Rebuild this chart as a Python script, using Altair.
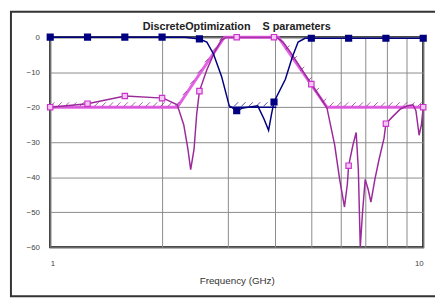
import numpy as np
import pandas as pd
import altair as alt

# S21 measured/optimized response (magenta)
freq_s21 = [1.0, 1.259, 1.587, 2.01, 2.19, 2.28, 2.34, 2.38, 2.43, 2.47, 2.512, 2.63, 2.76, 2.88, 2.97,
            3.162, 3.981, 4.04, 4.21, 4.40, 4.67, 5.012, 5.28, 5.52, 5.79, 5.97, 6.15, 6.26, 6.31,
            6.48, 6.61, 6.70, 6.78, 6.87, 6.99, 7.12, 7.24, 7.42, 7.61, 7.85, 7.943, 8.33, 8.69,
            9.07, 9.39, 9.56, 9.75, 9.89, 10.0]
db_s21 = [-20, -19, -16.8, -17.4, -19.3, -25, -32, -37.8, -32, -22, -15.4, -9.3, -4.2, -0.8, 0,
          0, 0, 0, -1.4, -4.2, -8.4, -13.4, -17, -20.2, -30.8, -40.6, -48.5, -42, -36.7,
          -30.8, -27.2, -37.8, -60, -50.5, -40.6, -43.5, -47.1, -40.6, -35, -28.9, -24.7, -22.4, -20.5,
          -19.6, -19.3, -21, -28, -25, -20]

# S11 response (dark blue)
freq_s11 = [1.0, 2.3, 2.512, 2.63, 2.74, 2.88, 3.02, 3.162, 3.29, 3.6, 3.74, 3.85, 3.92, 3.981,
            4.27, 4.46, 4.62, 4.82, 5.012, 10.0]
db_s11 = [0, 0, -0.5, -1.4, -4.8, -11.2, -19.6, -21, -20.2, -19.6, -23.3, -26.6, -22, -18.5,
          -12, -5.6, -1.4, -0.3, -0.3, -0.3]

# Specification masks
mask_freq = [1.0, 2.19, 2.93, 4.09, 5.52, 10.0]
mask_db = [-20, -20, 0, 0, -20, -20]
s11_spec_freq = [3.02, 4.04]
s11_spec_db = [-20, -20]

# Marker positions
marker_freq = [1.0, 1.259, 1.585, 1.995, 2.512, 3.162, 3.981, 5.012, 6.31, 7.943, 10.0]
marker_s21 = [-20, -19, -16.8, -17.4, -15.4, 0, 0, -13.4, -36.7, -24.7, -20]
marker_s11 = [0, 0, 0, 0, -0.5, -21, -18.5, -0.3, -0.3, -0.3, -0.3]

x_ticks = [1, 2, 3, 4, 5, 6, 7, 8, 9, 10]
y_ticks = [0, -10, -20, -30, -40, -50, -60]
title_text = "DiscreteOptimization\u00a0\u00a0\u00a0\u00a0S parameters"

df_s21 = pd.DataFrame({"f": freq_s21, "db": db_s21})
df_s11 = pd.DataFrame({"f": freq_s11, "db": db_s11})
df_mask = pd.DataFrame({"f": mask_freq, "db": mask_db})
df_spec = pd.DataFrame({"f": s11_spec_freq, "db": s11_spec_db})
df_m21 = pd.DataFrame({"f": marker_freq, "db": marker_s21})
df_m11 = pd.DataFrame({"f": marker_freq, "db": marker_s11})

# hatch decorations along the masks
hl = np.arange(0.006, 1.0, 0.0197)
hy = np.interp(hl, np.log10(mask_freq), mask_db)
keep = hy < -0.8
df_hatch = pd.DataFrame({"f": 10 ** hl[keep], "db": hy[keep]})
hl2 = hl[(hl > np.log10(s11_spec_freq[0]) + 0.005) & (hl < np.log10(s11_spec_freq[1]))]
df_hatch2 = pd.DataFrame({"f": 10 ** hl2, "db": np.interp(hl2, np.log10(s11_spec_freq), s11_spec_db)})

xscale = alt.Scale(type="log", domain=[1, 10], nice=False)
yscale = alt.Scale(domain=[-60, 0], nice=False)

x_axis = alt.Axis(values=x_ticks, grid=True, gridColor="#8a8a8a", gridWidth=1, domain=False, ticks=False,
                  labelExpr="datum.value == 1 ? '1' : (datum.value == 10 ? '10' : '')",
                  labelFontSize=8, labelColor="#444", labelPadding=13, labelFont="Liberation Sans",
                  title="Frequency (GHz)", titleFontSize=10, titleFontWeight="normal", titleColor="#333",
                  titleFont="Liberation Sans", titlePadding=8)
y_axis = alt.Axis(values=y_ticks, grid=True, gridColor="#8a8a8a", gridWidth=1, domain=False, ticks=False,
                  labelFontSize=8, labelColor="#444", labelPadding=11, labelFont="Liberation Sans",
                  title=None)

X = lambda: alt.X("f:Q", scale=xscale, axis=x_axis)
Y = lambda: alt.Y("db:Q", scale=yscale, axis=y_axis)

frame = alt.Chart(alt.Data(values=[{}])).mark_rect(filled=False, stroke="#333", strokeWidth=2, clip=False).encode(
    x=alt.value(-40), x2=alt.value(400), y=alt.value(-26), y2=alt.value(264))

title = alt.Chart(alt.Data(values=[{"t": title_text}])).mark_text(
    font="Liberation Sans", fontSize=11, fontWeight="bold", color="#222", align="center", baseline="middle"
).encode(text="t:N", x=alt.value(190), y=alt.value(-10))

mask = alt.Chart(df_mask).mark_line(color="#E050E0", strokeWidth=3, opacity=0.9).encode(x=X(), y=Y())
hatch = alt.Chart(df_hatch).mark_point(shape="M -1 1 L 1 -1", filled=False, stroke="#7a1a7a", strokeWidth=1,
                                        size=16, yOffset=-3).encode(x=X(), y=Y())
spec = alt.Chart(df_spec).mark_line(color="#000080", strokeWidth=1.5).encode(x=X(), y=Y())
hatch2 = alt.Chart(df_hatch2).mark_point(shape="M -1 1 L 1 -1", filled=False, stroke="#000080", strokeWidth=1,
                                         size=16, yOffset=-3).encode(x=X(), y=Y())
s21 = alt.Chart(df_s21).mark_line(color="#9A2A9A", strokeWidth=1.5, clip=True).encode(x=X(), y=Y())
s11 = alt.Chart(df_s11).mark_line(color="#000080", strokeWidth=1.5).encode(x=X(), y=Y())
m21 = alt.Chart(df_m21).mark_point(shape="square", filled=True, fill="#F4C8F4", stroke="#CC33CC",
                                    strokeWidth=1.2, size=30, opacity=1).encode(x=X(), y=Y())
m11 = alt.Chart(df_m11).mark_point(shape="square", filled=True, fill="#000080", stroke="#000080",
                                    size=28, opacity=1).encode(x=X(), y=Y())

chart = alt.layer(mask, frame, title, hatch, spec, hatch2, s21, s11, m21, m11).properties(
    width=380, height=214,
    background="white",
    autosize=alt.AutoSizeParams(type="none"),
    padding={"left": 43, "top": 27, "right": 12, "bottom": 52},
).configure_view(stroke="#111", strokeWidth=2)

chart.save("out.html", embed_options={"renderer": "svg", "actions": False})
